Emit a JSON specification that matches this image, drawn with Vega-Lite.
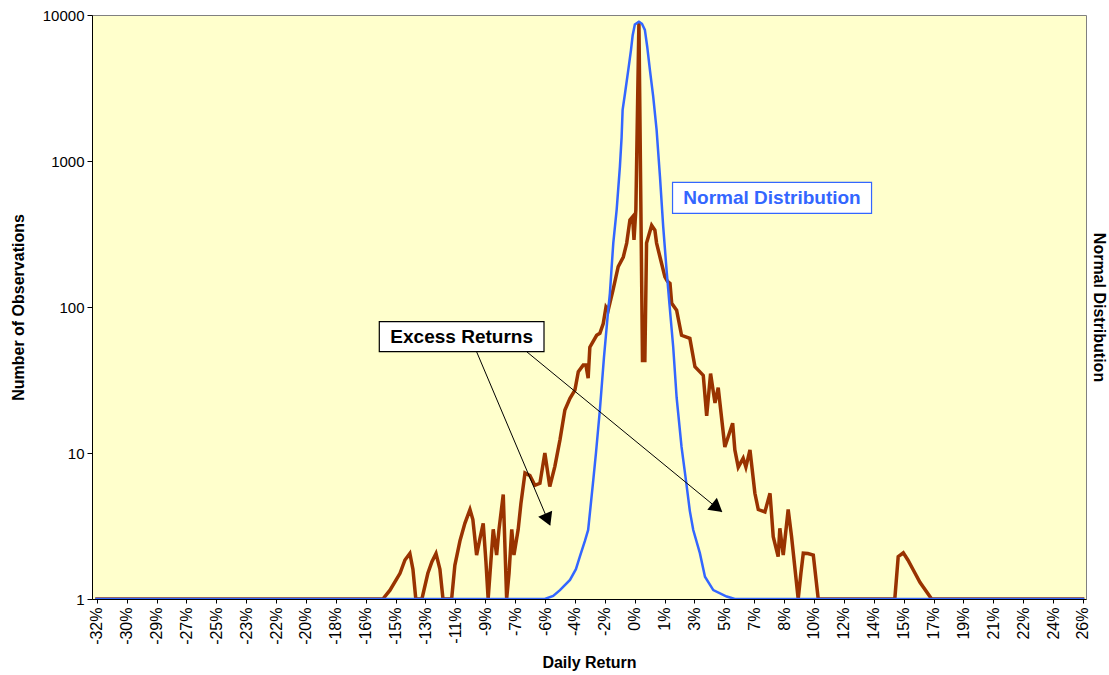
{
  "$schema": "https://vega.github.io/schema/vega-lite/v6.json",
  "width": 994,
  "height": 584,
  "autosize": {"type": "none"},
  "padding": {"left": 92, "top": 15, "right": 23, "bottom": 76},
  "background": "white",
  "config": {
    "font": "Liberation Sans",
    "view": {"fill": "#FFFFCC", "stroke": "#808080", "strokeWidth": 1},
    "axis": {"grid": false, "domainColor": "black", "tickColor": "black", "labelColor": "black", "titleColor": "black", "labelFont": "Liberation Sans", "titleFont": "Liberation Sans"},
    "axisX": {"labelOverlap": false}
  },
  "datasets": {
    "excess": [
      {"ret": -32.2, "count": 1}, {"ret": -15.26, "count": 1}, {"ret": -14.84, "count": 1.15}, {"ret": -14.25, "count": 1.5},
      {"ret": -13.96, "count": 1.85}, {"ret": -13.67, "count": 2.05}, {"ret": -13.49, "count": 1.6}, {"ret": -13.32, "count": 1},
      {"ret": -12.96, "count": 1}, {"ret": -12.61, "count": 1.5}, {"ret": -12.37, "count": 1.8}, {"ret": -12.13, "count": 2.05},
      {"ret": -11.9, "count": 1.6}, {"ret": -11.72, "count": 1}, {"ret": -11.21, "count": 1}, {"ret": -11.02, "count": 1.7},
      {"ret": -10.72, "count": 2.5}, {"ret": -10.43, "count": 3.3}, {"ret": -10.13, "count": 4.1}, {"ret": -9.96, "count": 3.5},
      {"ret": -9.74, "count": 2.0}, {"ret": -9.54, "count": 2.6}, {"ret": -9.35, "count": 3.3}, {"ret": -9.19, "count": 1.8},
      {"ret": -9.06, "count": 1}, {"ret": -8.9, "count": 1.8}, {"ret": -8.76, "count": 3}, {"ret": -8.56, "count": 2},
      {"ret": -8.42, "count": 3}, {"ret": -8.17, "count": 5.2}, {"ret": -7.97, "count": 1}, {"ret": -7.83, "count": 1.5},
      {"ret": -7.67, "count": 3}, {"ret": -7.54, "count": 2}, {"ret": -7.29, "count": 3}, {"ret": -7.13, "count": 4.5},
      {"ret": -6.89, "count": 7.3}, {"ret": -6.6, "count": 7}, {"ret": -6.31, "count": 6}, {"ret": -6.01, "count": 6.2},
      {"ret": -5.72, "count": 10}, {"ret": -5.43, "count": 5.9}, {"ret": -5.13, "count": 8.1}, {"ret": -4.83, "count": 12.3},
      {"ret": -4.54, "count": 19.7}, {"ret": -4.24, "count": 23.7}, {"ret": -3.95, "count": 27}, {"ret": -3.75, "count": 36},
      {"ret": -3.46, "count": 40}, {"ret": -3.3, "count": 40}, {"ret": -3.17, "count": 32.5}, {"ret": -3.07, "count": 53},
      {"ret": -2.67, "count": 64}, {"ret": -2.48, "count": 66}, {"ret": -2.28, "count": 77}, {"ret": -2.12, "count": 100},
      {"ret": -1.99, "count": 95}, {"ret": -1.71, "count": 130}, {"ret": -1.4, "count": 189}, {"ret": -1.1, "count": 220},
      {"ret": -0.9, "count": 274}, {"ret": -0.71, "count": 394}, {"ret": -0.55, "count": 415}, {"ret": -0.47, "count": 288},
      {"ret": -0.36, "count": 464}, {"ret": -0.18, "count": 9000}, {"ret": 0.03, "count": 43}, {"ret": 0.17, "count": 43},
      {"ret": 0.27, "count": 274}, {"ret": 0.57, "count": 362}, {"ret": 0.76, "count": 336}, {"ret": 0.86, "count": 274},
      {"ret": 1.06, "count": 220}, {"ret": 1.35, "count": 161}, {"ret": 1.5, "count": 150}, {"ret": 1.65, "count": 145},
      {"ret": 1.75, "count": 106}, {"ret": 2.04, "count": 95}, {"ret": 2.33, "count": 64}, {"ret": 2.82, "count": 61},
      {"ret": 3.12, "count": 39}, {"ret": 3.61, "count": 34}, {"ret": 3.81, "count": 18}, {"ret": 4.04, "count": 35},
      {"ret": 4.3, "count": 22}, {"ret": 4.49, "count": 28}, {"ret": 4.88, "count": 11}, {"ret": 5.34, "count": 16},
      {"ret": 5.47, "count": 10.5}, {"ret": 5.67, "count": 8}, {"ret": 5.96, "count": 9.2}, {"ret": 6.12, "count": 8},
      {"ret": 6.36, "count": 10.5}, {"ret": 6.65, "count": 5.3}, {"ret": 6.85, "count": 4.1}, {"ret": 7.24, "count": 3.95},
      {"ret": 7.54, "count": 5.3}, {"ret": 7.73, "count": 2.67}, {"ret": 8.02, "count": 1.95}, {"ret": 8.12, "count": 3.05},
      {"ret": 8.32, "count": 2.0}, {"ret": 8.61, "count": 4.1}, {"ret": 8.81, "count": 2.67}, {"ret": 9.2, "count": 1},
      {"ret": 9.36, "count": 1.5}, {"ret": 9.5, "count": 2.06}, {"ret": 9.77, "count": 2.05}, {"ret": 10.09, "count": 2},
      {"ret": 10.38, "count": 1}, {"ret": 14.89, "count": 1}, {"ret": 15.09, "count": 1.95}, {"ret": 15.39, "count": 2.07},
      {"ret": 15.66, "count": 1.85}, {"ret": 15.98, "count": 1.58}, {"ret": 16.37, "count": 1.3}, {"ret": 17.06, "count": 1},
      {"ret": 26.05, "count": 1}
    ],
    "normal": [
      {"ret": -32.2, "count": 1}, {"ret": -5.72, "count": 1}, {"ret": -5.23, "count": 1.05}, {"ret": -4.83, "count": 1.15},
      {"ret": -4.24, "count": 1.35}, {"ret": -3.89, "count": 1.6}, {"ret": -3.66, "count": 1.95}, {"ret": -3.36, "count": 2.5},
      {"ret": -3.17, "count": 2.97}, {"ret": -2.97, "count": 5}, {"ret": -2.87, "count": 6.5}, {"ret": -2.71, "count": 10},
      {"ret": -2.48, "count": 19.7}, {"ret": -2.24, "count": 45}, {"ret": -1.99, "count": 95}, {"ret": -1.89, "count": 124},
      {"ret": -1.69, "count": 274}, {"ret": -1.49, "count": 464}, {"ret": -1.3, "count": 915}, {"ret": -1.2, "count": 1450},
      {"ret": -1.14, "count": 2240}, {"ret": -1.0, "count": 2900}, {"ret": -0.81, "count": 4180}, {"ret": -0.65, "count": 5730},
      {"ret": -0.55, "count": 7230}, {"ret": -0.42, "count": 8600}, {"ret": -0.18, "count": 9000}, {"ret": 0.0, "count": 8700},
      {"ret": 0.17, "count": 7900}, {"ret": 0.31, "count": 6040}, {"ret": 0.47, "count": 4180}, {"ret": 0.66, "count": 2770},
      {"ret": 0.86, "count": 1640}, {"ret": 1.06, "count": 780}, {"ret": 1.25, "count": 355}, {"ret": 1.45, "count": 178},
      {"ret": 1.62, "count": 104}, {"ret": 1.84, "count": 53}, {"ret": 2.04, "count": 24}, {"ret": 2.33, "count": 11},
      {"ret": 2.59, "count": 6.5}, {"ret": 2.82, "count": 4}, {"ret": 3.02, "count": 2.97}, {"ret": 3.41, "count": 2.06},
      {"ret": 3.71, "count": 1.42}, {"ret": 4.2, "count": 1.15}, {"ret": 4.99, "count": 1.04}, {"ret": 5.47, "count": 1},
      {"ret": 26.05, "count": 1}
    ],
    "excessBox": [{"ret": -15.47, "ret2": -5.77, "count": 49.4, "count2": 79.3}],
    "excessLabel": [{"ret": -10.62, "count": 62.6, "label": "Excess Returns"}],
    "normalBox": [{"ret": 1.8, "ret2": 13.52, "count": 438, "count2": 714}],
    "normalLabel": [{"ret": 7.66, "count": 560, "label": "Normal Distribution"}],
    "arrows": [
      {"arrow": "a", "ret": -9.74, "count": 49.4, "ret2": -5.42, "count2": 3.21},
      {"arrow": "b", "ret": -6.79, "count": 49.4, "ret2": 4.69, "count2": 3.96}
    ],
    "heads": [
      {"arrow": "a", "ret": -5.6, "count": 3.6},
      {"arrow": "b", "ret": 4.33, "count": 4.3}
    ]
  },
  "encoding": {
    "x": {"field": "ret", "type": "quantitative", "scale": {"domain": [-32.39, 26.15], "nice": false, "zero": false},
      "axis": {"values": [-32.11, -30.35, -28.59, -26.83, -25.07, -23.31, -21.55, -19.79, -18.03, -16.27, -14.51, -12.75, -10.99, -9.23, -7.47, -5.71, -3.95, -2.19, -0.43, 1.33, 3.09, 4.85, 6.61, 8.37, 10.13, 11.89, 13.65, 15.41, 17.17, 18.93, 20.69, 22.45, 24.21, 25.97],
        "labelExpr": "round(datum.value) + '%'", "labelAngle": -90, "labelFontSize": 16, "labelPadding": 4, "tickSize": 4,
        "labelOverlap": false, "labelFlush": false, "labelBound": false,
        "title": "Daily Return", "titleFontSize": 16, "titleFontWeight": "bold", "titlePadding": 10}}
  },
  "resolve": {"axis": {"y": "independent"}},
  "layer": [
    {
      "data": {"name": "excess"},
      "mark": {"type": "line", "color": "#993300", "strokeWidth": 3.5, "strokeJoin": "miter", "clip": true},
      "encoding": {
        "y": {"field": "count", "type": "quantitative", "scale": {"type": "log", "domain": [1, 10000], "nice": false},
          "axis": {"orient": "left", "values": [1, 10, 100, 1000, 10000], "format": "d", "labelFontSize": 15, "tickSize": 5, "labelPadding": 3,
            "labelOverlap": false,
            "title": "Number of Observations", "titleFontSize": 16, "titleFontWeight": "bold", "titlePadding": 16}}
      }
    },
    {
      "data": {"name": "normal"},
      "mark": {"type": "line", "color": "#3366FF", "strokeWidth": 2.5, "clip": true},
      "encoding": {
        "y": {"field": "count", "type": "quantitative", "scale": {"type": "log", "domain": [1, 10000], "nice": false},
          "axis": {"orient": "right", "labels": false, "ticks": false, "domain": false, "title": "Normal Distribution", "titleAngle": 90, "titleFontSize": 16, "titleFontWeight": "bold", "titlePadding": 4}}
      }
    },
    {
      "data": {"name": "arrows"},
      "mark": {"type": "rule", "color": "black", "strokeWidth": 1},
      "encoding": {
        "x2": {"field": "ret2"},
        "y": {"field": "count", "type": "quantitative", "scale": {"type": "log", "domain": [1, 10000], "nice": false}, "axis": null},
        "y2": {"field": "count2"}
      }
    },
    {
      "data": {"name": "heads"},
      "mark": {"type": "point", "shape": "triangle", "filled": true, "color": "black", "opacity": 1, "size": 230},
      "encoding": {
        "y": {"field": "count", "type": "quantitative", "scale": {"type": "log", "domain": [1, 10000], "nice": false}, "axis": null},
        "angle": {"field": "arrow", "type": "nominal", "scale": {"domain": ["a", "b"], "range": [157, 129]}, "legend": null}
      }
    },
    {
      "data": {"name": "excessBox"},
      "mark": {"type": "rect", "fill": "white", "stroke": "black", "strokeWidth": 1.2},
      "encoding": {
        "x2": {"field": "ret2"},
        "y": {"field": "count", "type": "quantitative", "scale": {"type": "log", "domain": [1, 10000], "nice": false}, "axis": null},
        "y2": {"field": "count2"}
      }
    },
    {
      "data": {"name": "excessLabel"},
      "mark": {"type": "text", "fontSize": 19, "fontWeight": "bold", "color": "black", "align": "center", "baseline": "middle"},
      "encoding": {
        "y": {"field": "count", "type": "quantitative", "scale": {"type": "log", "domain": [1, 10000], "nice": false}, "axis": null},
        "text": {"field": "label"}
      }
    },
    {
      "data": {"name": "normalBox"},
      "mark": {"type": "rect", "fill": "white", "stroke": "#3366FF", "strokeWidth": 1.2},
      "encoding": {
        "x2": {"field": "ret2"},
        "y": {"field": "count", "type": "quantitative", "scale": {"type": "log", "domain": [1, 10000], "nice": false}, "axis": null},
        "y2": {"field": "count2"}
      }
    },
    {
      "data": {"name": "normalLabel"},
      "mark": {"type": "text", "fontSize": 19, "fontWeight": "bold", "color": "#3366FF", "align": "center", "baseline": "middle"},
      "encoding": {
        "y": {"field": "count", "type": "quantitative", "scale": {"type": "log", "domain": [1, 10000], "nice": false}, "axis": null},
        "text": {"field": "label"}
      }
    }
  ]
}
